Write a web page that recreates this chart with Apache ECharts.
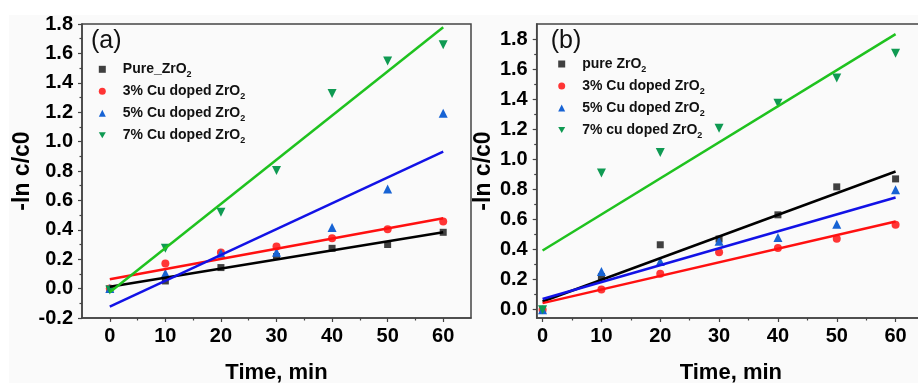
<!DOCTYPE html>
<html><head><meta charset="utf-8">
<script src="https://cdn.jsdelivr.net/npm/echarts@6/dist/echarts.min.js"></script>
<style>html,body{margin:0;padding:0;background:#fff}#c{width:918px;height:383px}</style>
</head><body><div id="c"></div>
<script>
// ---- data ----
const times = [0, 10, 20, 30, 40, 50, 60];
const namesA = ['Pure_ZrO2', '3% Cu doped ZrO2', '5% Cu doped ZrO2', '7% Cu doped ZrO2'];
const namesB = ['pure ZrO2', '3% Cu doped ZrO2 ', '5% Cu doped ZrO2 ', '7% cu doped ZrO2'];
const a_pure = [0.0, 0.052, 0.143, 0.218, 0.274, 0.300, 0.383];
const a_cu3  = [0.0, 0.170, 0.245, 0.286, 0.342, 0.404, 0.456];
const a_cu5  = [0.0, 0.104, 0.240, 0.247, 0.415, 0.678, 1.193];
const a_cu7  = [-0.01, 0.274, 0.519, 0.803, 1.327, 1.549, 1.658];
const b_pure = [0.0, 0.220, 0.432, 0.470, 0.631, 0.817, 0.870];
const b_cu3  = [0.0, 0.135, 0.239, 0.383, 0.410, 0.472, 0.565];
const b_cu5  = [0.0, 0.255, 0.321, 0.456, 0.480, 0.569, 0.797];
const b_cu7  = [0.0, 0.910, 1.045, 1.207, 1.373, 1.541, 1.705];
// linear fit lines (value at start, value at end)
const fitTimes = [0, 60];
const fitA_pure = [0.012, 0.384];
const fitA_cu3  = [0.063, 0.478];
const fitA_cu5  = [-0.122, 0.932];
const fitA_cu7  = [-0.025, 1.778];
const fitB_pure = [0.055, 0.919];
const fitB_cu3  = [0.044, 0.587];
const fitB_cu5  = [0.071, 0.746];
const fitB_cu7  = [0.394, 1.833];
// ticks
const xTicks = [0, 10, 20, 30, 40, 50, 60];
const xMinorTicks = [5, 15, 25, 35, 45, 55];
const yTicksB = [0, 0.2, 0.4, 0.6, 0.8, 1.0, 1.2, 1.4, 1.6, 1.8];
const yMinorTicksB = [0.1, 0.3, 0.5, 0.7, 0.9, 1.1, 1.3, 1.5, 1.7];

// ---- style ----
const FONT = '"Liberation Sans", Arial, sans-serif';
const AX = '#444';
const markerColors = ['#404040', '#ff3535', '#1763d4', '#0f9a52'];
const lineColors = ['#000000', '#ff1010', '#1212e6', '#1fc21f'];
const symbols = ['rect', 'circle', 'triangle', 'triangle'];
const symRot = [0, 0, 0, 180];
const symSize = [7, 8, 9, 9];
const DOWN_TRI = 'path://M0,0L2,0L1,1.732Z';

const pair = (xs, ys) => xs.map((x, i) => [x, ys[i]]);

function mainX(grid, min, max) {
  return {
    type: 'value', gridIndex: grid, min: min, max: max, position: 'bottom',
    axisLine: { show: true, onZero: false, lineStyle: { color: AX, width: 1.5 } },
    axisTick: { show: true, inside: false, length: 4, customValues: xTicks, lineStyle: { color: AX, width: 1.2 } },
    axisLabel: { customValues: xTicks, margin: 8, color: '#000', fontSize: 20, fontWeight: 'bold', fontFamily: FONT },
    splitLine: { show: false },
    name: 'Time, min', nameLocation: 'middle', nameGap: 44,
    nameTextStyle: { color: '#000', fontSize: 22, fontWeight: 'bold', fontFamily: FONT }
  };
}
function minorX(grid, min, max) {
  return {
    type: 'value', gridIndex: grid, min: min, max: max, position: 'bottom',
    axisLine: { show: false, onZero: false },
    axisTick: { show: true, inside: false, length: 2.5, customValues: xMinorTicks, lineStyle: { color: AX, width: 1.2 } },
    axisLabel: { show: false }, splitLine: { show: false }
  };
}
const yNameStyle = { color: '#000', fontSize: 23, fontWeight: 'bold', fontFamily: FONT };
const yLabel = { margin: 9, color: '#000', fontSize: 20, fontWeight: 'bold', fontFamily: FONT,
  formatter: v => v.toFixed(1) };

const yAxes = [
  { type: 'value', gridIndex: 0, min: -0.2, max: 1.8, interval: 0.2,
    axisLine: { show: true, onZero: false, lineStyle: { color: AX, width: 1.5 } },
    axisTick: { show: true, length: 4, lineStyle: { color: AX, width: 1.2 } },
    minorTick: { show: true, splitNumber: 2, length: 2.5, lineStyle: { color: AX, width: 1.2 } },
    axisLabel: yLabel, splitLine: { show: false }, minorSplitLine: { show: false },
    name: '-ln c/c0', nameLocation: 'middle', nameGap: 42, nameTextStyle: yNameStyle },
  { type: 'value', gridIndex: 1, min: -0.055, max: 1.9,
    axisLine: { show: true, onZero: false, lineStyle: { color: AX, width: 1.5 } },
    axisTick: { show: true, length: 4, customValues: yTicksB, lineStyle: { color: AX, width: 1.2 } },
    axisLabel: Object.assign({ customValues: yTicksB }, yLabel), splitLine: { show: false },
    name: '-ln c/c0', nameLocation: 'middle', nameGap: 42, nameTextStyle: yNameStyle },
  { type: 'value', gridIndex: 1, min: -0.055, max: 1.9, position: 'left',
    axisLine: { show: false, onZero: false },
    axisTick: { show: true, length: 2.5, customValues: yMinorTicksB, lineStyle: { color: AX, width: 1.2 } },
    axisLabel: { show: false }, splitLine: { show: false } }
];

const dataA = [a_pure, a_cu3, a_cu5, a_cu7];
const dataB = [b_pure, b_cu3, b_cu5, b_cu7];
const fitsA = [fitA_pure, fitA_cu3, fitA_cu5, fitA_cu7];
const fitsB = [fitB_pure, fitB_cu3, fitB_cu5, fitB_cu7];

const series = [];
function addPanel(names, data, fits, xi, yi, tag) {
  data.forEach((d, i) => {
    series.push({
      type: 'scatter', name: names[i], xAxisIndex: xi, yAxisIndex: yi,
      data: pair(times, d), symbol: symbols[i], symbolRotate: symRot[i], symbolSize: symSize[i],
      itemStyle: { color: markerColors[i], opacity: 1 }, z: 2
    });
  });
  fits.forEach((f, i) => {
    series.push({
      type: 'line', name: 'fit ' + tag + i, xAxisIndex: xi, yAxisIndex: yi,
      data: pair(fitTimes, f), showSymbol: false, symbol: 'none',
      lineStyle: { color: lineColors[i], width: 2.5 }, z: 3, silent: true
    });
  });
}
addPanel(namesA, dataA, fitsA, 0, 0, 'a');
addPanel(namesB, dataB, fitsB, 2, 1, 'b');

const legendText = {
  fontFamily: FONT, fontSize: 14, fontWeight: 'bold', color: '#111', lineHeight: 20,
  padding: [0, 0, 0, 12],
  rich: { s: { fontFamily: FONT, fontSize: 9, fontWeight: 'bold', color: '#111', lineHeight: 9, verticalAlign: 'bottom' } }
};
const legFmt = n => n.trim().replace(/ZrO2$/, 'ZrO{s|2}');
const legendItems = names => names.map((n, i) => symRot[i] ? { name: n, icon: DOWN_TRI } : { name: n });

const option = {
  backgroundColor: '#ffffff',
  animation: false,
  graphic: [
    { type: 'rect', z: -100, silent: true, shape: { x: 9, y: 15, width: 909, height: 368 }, style: { fill: '#fafafa' } },
    { type: 'text', x: 91, y: 41, style: { text: '(a)', font: '25px "Liberation Sans", Arial, sans-serif', fill: '#111', verticalAlign: 'middle' } },
    { type: 'text', x: 550.7, y: 41, style: { text: '(b)', font: '25px "Liberation Sans", Arial, sans-serif', fill: '#111', verticalAlign: 'middle' } }
  ],
  grid: [
    { left: 82, top: 24, width: 389, height: 294, show: true, borderColor: AX, borderWidth: 1.5, backgroundColor: 'transparent', outerBoundsMode: 'none', containLabel: false },
    { left: 536.7, top: 24, width: 388.3, height: 294, show: true, borderColor: AX, borderWidth: 1.5, backgroundColor: 'transparent', outerBoundsMode: 'none', containLabel: false }
  ],
  xAxis: [mainX(0, -5, 65), minorX(0, -5, 65), mainX(1, -1, 65), minorX(1, -1, 65)],
  yAxis: yAxes,
  legend: [
    { data: legendItems(namesA), orient: 'vertical', left: 98.8, top: 59.3, padding: 0, itemWidth: 7, itemHeight: 7, itemGap: 2,
      selectedMode: false, textStyle: legendText, formatter: legFmt },
    { data: legendItems(namesB), orient: 'vertical', left: 558.2, top: 54, padding: 0, itemWidth: 7, itemHeight: 7, itemGap: 2,
      selectedMode: false, textStyle: legendText, formatter: legFmt }
  ],
  series: series
};
const chart = echarts.init(document.getElementById('c'), null, { renderer: 'canvas' });
chart.setOption(option);
</script></body></html>
